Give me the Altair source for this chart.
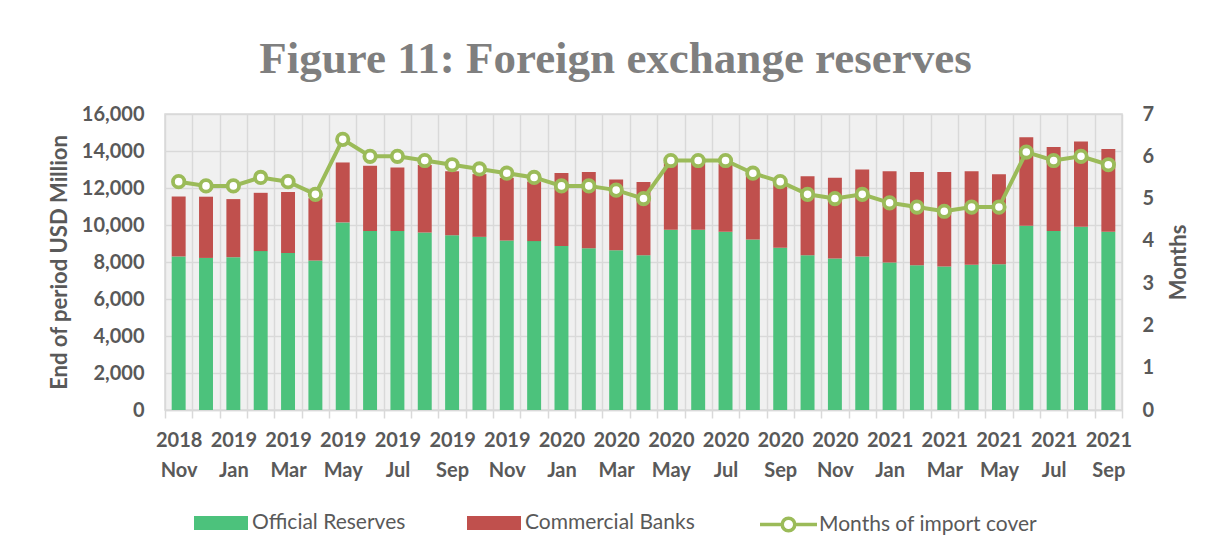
import altair as alt
import pandas as pd

months = ["2018 Nov", "2018 Dec", "2019 Jan", "2019 Feb", "2019 Mar", "2019 Apr",
          "2019 May", "2019 Jun", "2019 Jul", "2019 Aug", "2019 Sep", "2019 Oct",
          "2019 Nov", "2019 Dec", "2020 Jan", "2020 Feb", "2020 Mar", "2020 Apr",
          "2020 May", "2020 Jun", "2020 Jul", "2020 Aug", "2020 Sep", "2020 Oct",
          "2020 Nov", "2020 Dec", "2021 Jan", "2021 Feb", "2021 Mar", "2021 Apr",
          "2021 May", "2021 Jun", "2021 Jul", "2021 Aug", "2021 Sep"]

official = [8300, 8220, 8260, 8590, 8480, 8080, 10140, 9670, 9670, 9600, 9450, 9360,
            9160, 9130, 8870, 8750, 8640, 8370, 9740, 9740, 9630, 9220, 8770, 8370,
            8190, 8300, 7970, 7830, 7760, 7850, 7880, 9960, 9670, 9900, 9630]

commercial = [3240, 3310, 3140, 3150, 3300, 3370, 3240, 3530, 3440, 3650, 3450, 3390,
              3390, 3220, 3940, 4110, 3820, 3950, 3660, 3660, 3670, 3580, 3530, 4260,
              4360, 4700, 4930, 5030, 5100, 5060, 4870, 4790, 4540, 4620, 4480]

import_cover = [5.4, 5.3, 5.3, 5.5, 5.4, 5.1, 6.4, 6.0, 6.0, 5.9, 5.8, 5.7,
                5.6, 5.5, 5.3, 5.3, 5.2, 5.0, 5.9, 5.9, 5.9, 5.6, 5.4, 5.1,
                5.0, 5.1, 4.9, 4.8, 4.7, 4.8, 4.8, 6.1, 5.9, 6.0, 5.8]

series_names = ["Official Reserves", "Commercial Banks"]
line_name = "Months of import cover"

GREEN = "#4cc27c"
RED = "#c0504d"
LINE = "#9bbb59"
GRID = "#d9d9d9"
TEXT = "#595959"
FONT = "Lato"

wide = pd.DataFrame({"month": months, "Official Reserves": official,
                     "Commercial Banks": commercial, "cover": import_cover,
                     "name": line_name})
long = wide.melt(id_vars=["month"], value_vars=series_names,
                 var_name="series", value_name="value")
long["ord"] = long["series"].map({series_names[0]: 0, series_names[1]: 1})

label_expr = ("indexof(['Nov','Jan','Mar','May','Jul','Sep'], slice(datum.label, 5)) >= 0"
              " ? split(datum.label, ' ') : ''")

x_scale = alt.Scale(paddingInner=0, paddingOuter=0)

x_axis = alt.Axis(labelExpr=label_expr, labelAngle=0, labelFont=FONT,
                  labelFontSize=20, labelFontWeight="bold", labelColor=TEXT,
                  labelLineHeight=30, labelPadding=12, labelOverlap=False,
                  tickBand="extent", ticks=True, tickSize=8, tickColor=GRID,
                  tickWidth=1.5, grid=True, gridColor=GRID, gridWidth=1.5,
                  domain=True, domainColor=GRID, domainWidth=1.5)

bar_rect = "M-1,-0.26H1V0.26H-1Z"
line_sym = ("M-1,0H-0.26M0.26,0H1M0.22,0A0.22,0.22,0,1,1,-0.22,0"
            "A0.22,0.22,0,1,1,0.22,0Z")

bars = alt.Chart(long).mark_bar(width=alt.RelativeBandSize(0.51)).encode(
    x=alt.X("month:N", sort=months, title=None, scale=x_scale, axis=x_axis),
    y=alt.Y("value:Q", stack="zero", title="End of period USD Million",
            scale=alt.Scale(domain=[0, 16000]),
            axis=alt.Axis(values=list(range(0, 16001, 2000)), format=",.0f",
                          labelFont=FONT, labelFontSize=20, labelFontWeight="bold",
                          labelColor=TEXT, labelPadding=21, ticks=False, domain=False,
                          grid=True, gridColor=GRID, gridWidth=1.5,
                          titleFont=FONT, titleFontSize=22, titleFontWeight="bold",
                          titleColor=TEXT, titlePadding=10)),
    color=alt.Color("series:N",
                    scale=alt.Scale(domain=series_names, range=[GREEN, RED]),
                    legend=alt.Legend(orient="none", legendX=29, legendY=382,
                                      direction="horizontal", title=None,
                                      symbolType=bar_rect, symbolSize=2916,
                                      symbolStrokeWidth=0, symbolOpacity=1,
                                      labelFont=FONT, labelFontSize=21,
                                      labelColor=TEXT, labelOffset=4,
                                      labelLimit=400, columnPadding=61)),
    order=alt.Order("ord:Q"),
)

line = alt.Chart(wide).mark_line(strokeWidth=4, color=LINE).encode(
    x=alt.X("month:N", sort=months, title=None),
    y=alt.Y("cover:Q", title="Months", scale=alt.Scale(domain=[0, 7]),
            axis=alt.Axis(orient="right", values=list(range(0, 8)), labelFont=FONT,
                          labelFontSize=20, labelFontWeight="bold", labelColor=TEXT,
                          labelPadding=20, ticks=False, domain=False, grid=False,
                          titleFont=FONT, titleFontSize=22, titleFontWeight="bold",
                          titleColor=TEXT, titleAngle=270, titleBaseline="top",
                          titlePadding=15)),
    stroke=alt.Stroke("name:N", scale=alt.Scale(domain=[line_name], range=[LINE]),
                      legend=alt.Legend(orient="none", legendX=593, legendY=380,
                                        title=None, symbolType=line_sym,
                                        symbolSize=3249, symbolStrokeWidth=3.5,
                                        symbolFillColor="white",
                                        labelFont=FONT, labelFontSize=21,
                                        labelColor=TEXT, labelOffset=0,
                                        labelLimit=400)),
)

points = alt.Chart(wide).mark_point(filled=True, fill="white", stroke=LINE,
                                    strokeWidth=3.8, size=130, opacity=1).encode(
    x=alt.X("month:N", sort=months, title=None),
    y=alt.Y("cover:Q", scale=alt.Scale(domain=[0, 7]), axis=None),
)

chart = alt.layer(bars, line, points).resolve_scale(
    y="independent"
).properties(
    width=957, height=296,
    autosize=alt.AutoSizeParams(type="none"),
    padding={"left": 157, "top": 106, "right": 90, "bottom": 138},
    background="white",
    title=alt.TitleParams("Figure 11: Foreign exchange reserves",
                          font="Liberation Serif", fontSize=45, fontWeight="bold",
                          color="#7f7f7f", anchor="middle", frame="group",
                          dx=-28, offset=-14, baseline="alphabetic"),
).configure_view(
    fill="#f0f0f0", stroke=GRID, strokeWidth=1.5
)

chart.save("out.html", embed_options={"renderer": "svg", "actions": False})
